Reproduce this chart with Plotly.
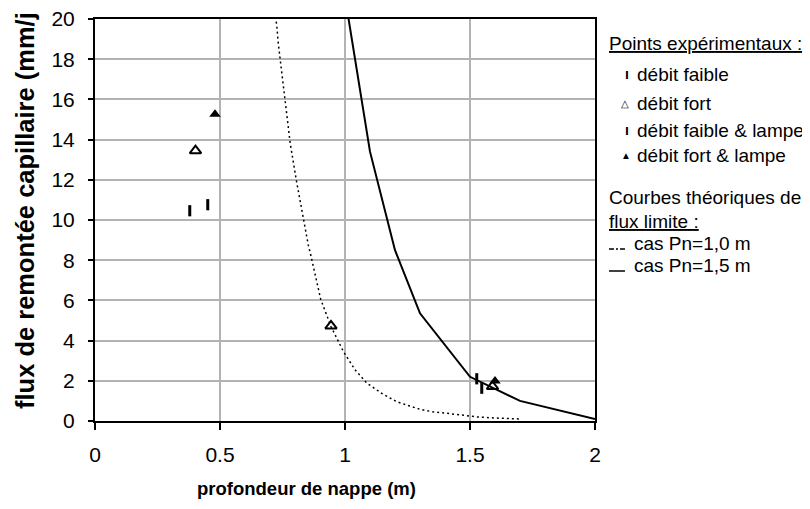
import plotly.graph_objects as go

# Experimental points
faible_x = [0.379, 1.527]
faible_y = [10.46, 2.10]
fort_x = [0.402, 0.944, 1.59]
fort_y = [13.45, 4.73, 1.72]
faible_lampe_x = [0.451, 1.547]
faible_lampe_y = [10.76, 1.63]
fort_lampe_x = [0.48, 1.60]
fort_lampe_y = [15.26, 1.99]

# Theoretical limit-flux curves
pn10_x = [0.715, 0.727, 0.733, 0.741, 0.749, 0.757, 0.765, 0.781, 0.805, 0.834, 0.853, 0.863,
          0.903, 0.944, 0.994, 1.04, 1.088, 1.15, 1.207, 1.30, 1.35, 1.41, 1.53, 1.60, 1.70]
pn10_y = [20.6, 19.7, 18.8, 18.0, 17.2, 16.3, 15.5, 13.8, 12.0, 10.0, 8.76, 8.26,
          6.05, 4.70, 3.45, 2.55, 1.88, 1.35, 0.96, 0.58, 0.46, 0.38, 0.20, 0.15, 0.10]
pn15_x = [1.0, 1.1, 1.2, 1.3, 1.5, 1.7, 2.0]
pn15_y = [21.1, 13.4, 8.5, 5.36, 2.2, 1.0, 0.1]

x_ticks = [0, 0.5, 1, 1.5, 2]
x_tick_labels = ["0", "0.5", "1", "1.5", "2"]
y_ticks = [0, 2, 4, 6, 8, 10, 12, 14, 16, 18, 20]

FONT = "Liberation Sans, Arial, sans-serif"
GRID = "#b3b3b3"

fig = go.Figure()
fig.add_trace(go.Scatter(x=pn10_x, y=pn10_y, mode="lines", name="cas Pn=1,0 m",
                         line=dict(color="black", width=1.5, dash="2px,3px")))
fig.add_trace(go.Scatter(x=pn15_x, y=pn15_y, mode="lines", name="cas Pn=1,5 m",
                         line=dict(color="black", width=2)))
fig.add_trace(go.Scatter(x=faible_x, y=faible_y, mode="markers", name="débit faible",
                         marker=dict(symbol="line-ns", size=8, line=dict(color="black", width=3))))
fig.add_trace(go.Scatter(x=fort_x, y=fort_y, mode="markers", name="débit fort",
                         marker=dict(symbol="triangle-up-open", size=10, color="black",
                                     line=dict(color="black", width=2))))
fig.add_trace(go.Scatter(x=faible_lampe_x, y=faible_lampe_y, mode="markers", name="débit faible & lampe",
                         marker=dict(symbol="line-ns", size=8, line=dict(color="black", width=3))))
fig.add_trace(go.Scatter(x=fort_lampe_x, y=fort_lampe_y, mode="markers", name="débit fort & lampe",
                         marker=dict(symbol="triangle-up", size=10, color="black")))

fig.update_xaxes(range=[0, 2], tickvals=x_ticks, ticktext=x_tick_labels, automargin=False,
                 showgrid=True, gridcolor=GRID, gridwidth=2,
                 showline=True, linecolor="black", linewidth=2, mirror=True,
                 ticks="outside", ticklen=7, tickwidth=1.5, tickcolor="black",
                 ticklabelstandoff=7, ticklabeloverflow="allow",
                 tickfont=dict(family=FONT, size=21, color="black"),
                 zeroline=False)
fig.update_yaxes(range=[0, 20], tickvals=y_ticks, automargin=False,
                 showgrid=True, gridcolor=GRID, gridwidth=2,
                 showline=True, linecolor="black", linewidth=2, mirror=True,
                 ticks="outside", ticklen=5, tickwidth=1.5, tickcolor="black",
                 ticklabelstandoff=9, ticklabeloverflow="allow",
                 tickfont=dict(family=FONT, size=21, color="black"),
                 zeroline=False)

# The page body has an 8px margin, so the figure starts at (8, 8) on screen.
OFF = 8
SW, SH = 810, 509
W, H = SW - OFF, SH - OFF
L, R, T, B = 95, 595, 19, 421          # plot area in screen pixels
def px(xp):
    return (xp - L) / (R - L)
def py(yp):
    return (B - yp) / (B - T)

def note(x, y, text, size=19, bold=False, angle=0, xanchor="left"):
    fig.add_annotation(x=px(x), y=py(y), xref="paper", yref="paper", xanchor=xanchor, yanchor="middle",
                       text=("<b>%s</b>" % text) if bold else text, showarrow=False, textangle=angle,
                       font=dict(family=FONT, size=size, color="black"))

# axis titles
note(306, 488, "profondeur de nappe (m)", size=18.5, bold=True, xanchor="center")
note(25, 211, "flux de remontée capillaire (mm/j", size=25.5, bold=True, angle=-90, xanchor="center")

# legend
note(607, 43.5, "<u>Points expérimentaux :</u>")
note(623, 74, "<b>ı</b>", 14)
note(619, 104, "△", 10)
note(623, 130, "<b>ı</b>", 14)
note(619, 155, "▲", 10)
note(635, 74, "débit faible")
note(635, 104, "débit fort")
note(635, 130, "débit faible & lampe")
note(635, 155, "débit fort & lampe")
note(607, 197, "Courbes théoriques de")
note(607, 221, "<u>flux limite :</u>")
note(632, 243.5, "cas Pn=1,0 m")
note(632, 265, "cas Pn=1,5 m")

# legend keys for the two curves
fig.add_shape(type="line", xref="paper", yref="paper", x0=px(609), x1=px(627), y0=py(249), y1=py(249),
              line=dict(color="black", width=1.5, dash="5px,2px,2px,2px"))
fig.add_shape(type="line", xref="paper", yref="paper", x0=px(609), x1=px(625), y0=py(271), y1=py(271),
              line=dict(color="black", width=1.5))

fig.update_layout(width=W, height=H, showlegend=False,
                  margin=dict(l=L - OFF, r=W - (R - OFF), t=T - OFF, b=H - (B - OFF), pad=0),
                  plot_bgcolor="white", paper_bgcolor="white",
                  font=dict(family=FONT, color="black"))

fig.write_html("out.html")
